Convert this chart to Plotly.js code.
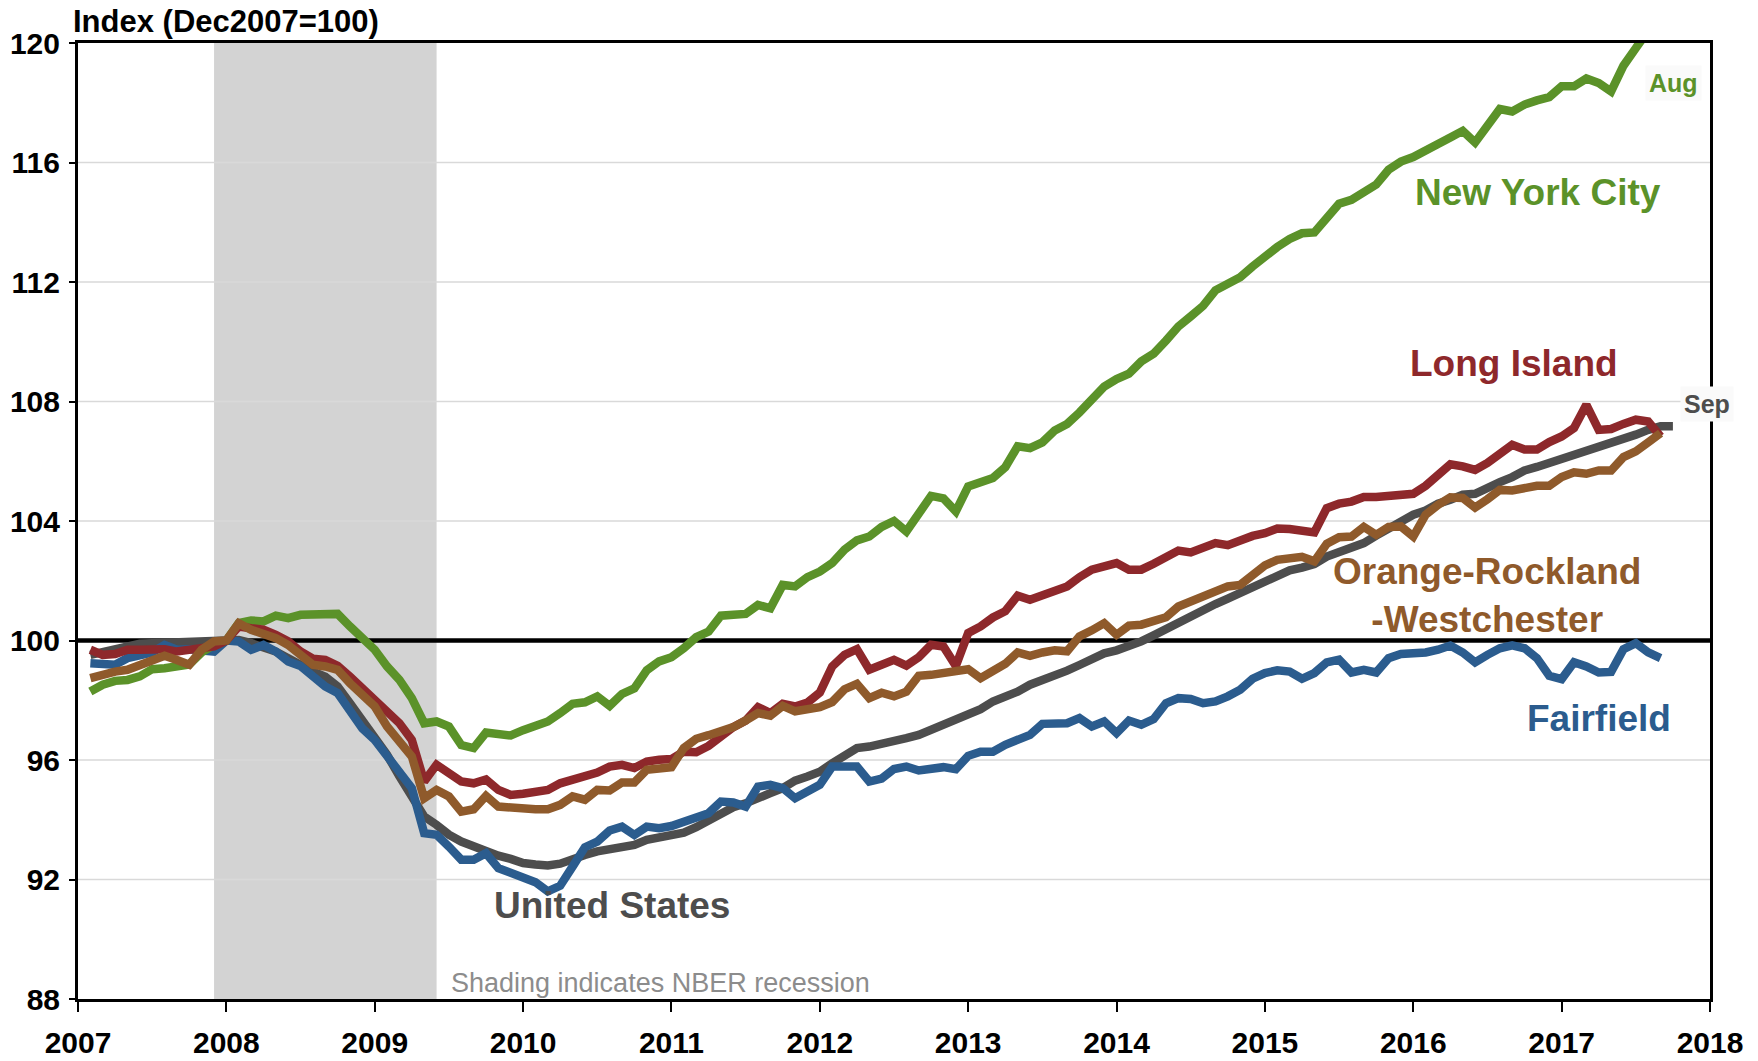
<!DOCTYPE html>
<html>
<head>
<meta charset="utf-8">
<script src="https://cdn.plot.ly/plotly-3.0.1.min.js"></script>
<style>
  html, body { margin: 0; padding: 0; background: #ffffff; }
  #chart { width: 1758px; height: 1061px; }
</style>
</head>
<body>
<div id="chart"></div>
<script>
// Monthly index values (Dec 2007 = 100), starting January 2007
const firstYear = 2007;
const yearTicks = [2007, 2008, 2009, 2010, 2011, 2012, 2013, 2014, 2015, 2016, 2017, 2018];
const yTicks = [88, 92, 96, 100, 104, 108, 112, 116, 120];
const baseline = 100;
const recessionStart = 2007.917; // Dec 2007
const recessionEnd = 2009.417;   // Jun 2009

const newYorkCity = [
  98.29, 98.52, 98.65, 98.68, 98.80, 99.04, 99.07, 99.10, 99.20, 99.60, 99.85, 100.00,
  100.58, 100.67, 100.64, 100.83, 100.75, 100.86, 100.86, 100.89, 100.89, 100.47, 100.08, 99.69,
  99.13, 98.68, 98.07, 97.23, 97.29, 97.12, 96.50, 96.40, 96.92, 96.86, 96.82, 97.00,
  97.15, 97.29, 97.57, 97.88, 97.93, 98.13, 97.81, 98.21, 98.40, 99.00, 99.30, 99.44,
  99.74, 100.11, 100.30, 100.83, 100.86, 100.89, 101.19, 101.08, 101.86, 101.81, 102.12, 102.31,
  102.59, 103.04, 103.35, 103.48, 103.80, 104.00, 103.65, 104.21, 104.84, 104.76, 104.32, 105.16,
  105.27, 105.44, 105.80, 106.50, 106.44, 106.63, 107.03, 107.25, 107.63, 108.11, 108.50, 108.75,
  108.93, 109.34, 109.60, 110.04, 110.51, 110.85, 111.20, 111.72, 111.91, 112.16, 112.52, 112.86,
  113.17, 113.44, 113.63, 113.66, 114.12, 114.62, 114.75, 115.00, 115.26, 115.76, 116.03, 116.18,
  116.37, 116.62, 116.84, 117.06, 116.67, 117.19, 117.79, 117.71, 117.94, 118.08, 118.19, 118.55,
  118.55, 118.81, 118.66, 118.38, 119.24, 119.83, 120.50, 121.00
];

const longIsland = [
  99.69, 99.52, 99.55, 99.69, 99.69, 99.71, 99.71, 99.63, 99.70, 99.74, 99.80, 100.00,
  100.47, 100.41, 100.36, 100.19, 99.97, 99.63, 99.39, 99.35, 99.15, 98.79, 98.40, 98.01,
  97.68, 97.23, 96.67, 95.28, 95.84, 95.56, 95.28, 95.22, 95.35, 95.00, 94.83, 94.87,
  94.91, 95.00, 95.22, 95.34, 95.47, 95.58, 95.78, 95.84, 95.73, 95.95, 96.01, 96.03,
  96.28, 96.26, 96.47, 96.79, 97.10, 97.32, 97.77, 97.57, 97.88, 97.79, 97.92, 98.26,
  99.13, 99.52, 99.71, 99.02, 99.19, 99.35, 99.16, 99.44, 99.86, 99.80, 99.15, 100.25,
  100.47, 100.77, 100.98, 101.50, 101.36, 101.53, 101.63, 101.81, 102.12, 102.37, 102.48, 102.59,
  102.37, 102.37, 102.57, 102.76, 103.01, 102.95, 103.09, 103.26, 103.19, 103.35, 103.50, 103.59,
  103.75, 103.73, 103.67, 103.62, 104.43, 104.58, 104.65, 104.80, 104.80, 104.84, 104.82, 104.91,
  105.18, 105.51, 105.90, 105.83, 105.71, 105.94, 106.27, 106.55, 106.39, 106.39, 106.64, 106.83,
  107.11, 107.89, 107.05, 107.08, 107.25, 107.39, 107.33, 106.83
];

const orangeRocklandWestchester = [
  98.74, 98.88, 98.96, 99.02, 99.19, 99.35, 99.49, 99.35, 99.19, 99.69, 99.97, 100.00,
  100.58, 100.36, 100.25, 100.08, 99.85, 99.52, 99.19, 99.13, 99.02, 98.57, 98.18, 97.79,
  97.12, 96.67, 96.12, 94.72, 95.00, 94.78, 94.27, 94.35, 94.80, 94.44, 94.39, 94.35,
  94.35, 94.35, 94.50, 94.78, 94.67, 95.00, 94.98, 95.25, 95.25, 95.67, 95.75, 95.76,
  96.40, 96.71, 96.83, 96.94, 97.10, 97.32, 97.57, 97.48, 97.81, 97.63, 97.68, 97.77,
  97.94, 98.37, 98.55, 98.07, 98.25, 98.13, 98.29, 98.82, 98.85, 98.91, 98.96, 99.04,
  98.74, 98.96, 99.22, 99.60, 99.49, 99.60, 99.67, 99.64, 100.14, 100.34, 100.58, 100.19,
  100.50, 100.53, 100.64, 100.78, 101.14, 101.31, 101.50, 101.64, 101.81, 101.86, 102.23, 102.51,
  102.70, 102.72, 102.80, 102.65, 103.24, 103.46, 103.48, 103.80, 103.54, 103.80, 103.82, 103.48,
  104.21, 104.54, 104.79, 104.77, 104.45, 104.73, 105.04, 105.02, 105.10, 105.18, 105.18, 105.47,
  105.63, 105.58, 105.69, 105.69, 106.14, 106.33, 106.63, 106.94
];

const unitedStates = [
  99.52, 99.63, 99.74, 99.83, 99.89, 99.91, 99.93, 99.91, 99.94, 99.97, 100.00, 100.00,
  100.02, 99.91, 99.80, 99.63, 99.41, 99.15, 98.96, 98.79, 98.46, 97.90, 97.34, 96.79,
  96.17, 95.45, 94.78, 94.11, 93.83, 93.50, 93.27, 93.10, 92.95, 92.80, 92.69, 92.55,
  92.50, 92.47, 92.53, 92.71, 92.82, 92.94, 93.01, 93.08, 93.16, 93.33, 93.42, 93.49,
  93.57, 93.75, 93.97, 94.27, 94.42, 94.55, 94.76, 94.89, 95.06, 95.31, 95.45, 95.61,
  95.89, 96.17, 96.40, 96.45, 96.53, 96.60, 96.73, 96.84, 97.01, 97.14, 97.29, 97.48,
  97.70, 97.96, 98.10, 98.29, 98.52, 98.68, 98.77, 98.99, 99.18, 99.38, 99.57, 99.67,
  99.80, 99.97, 100.17, 100.39, 100.60, 100.80, 101.03, 101.22, 101.40, 101.59, 101.81, 102.02,
  102.20, 102.35, 102.44, 102.56, 102.81, 102.98, 103.13, 103.26, 103.51, 103.76, 104.02, 104.21,
  104.35, 104.58, 104.71, 104.88, 104.91, 105.07, 105.30, 105.47, 105.69, 105.81, 105.94, 106.10,
  106.25, 106.36, 106.44, 106.58, 106.72, 106.89, 107.05, 107.17, 107.17
];

const fairfield = [
  99.24, 99.24, 99.19, 99.41, 99.52, 99.60, 99.85, 99.69, 99.71, 99.69, 99.63, 100.00,
  99.97, 99.69, 99.85, 99.63, 99.30, 99.15, 98.79, 98.46, 98.24, 97.68, 97.06, 96.67,
  96.17, 95.67, 95.06, 93.55, 93.50, 93.10, 92.66, 92.66, 92.88, 92.38, 92.21, 92.10,
  91.91, 91.60, 91.79, 92.43, 93.08, 93.27, 93.64, 93.77, 93.49, 93.77, 93.72, 93.79,
  93.94, 94.09, 94.22, 94.61, 94.58, 94.44, 95.11, 95.17, 95.06, 94.72, 94.94, 95.17,
  95.78, 95.80, 95.78, 95.28, 95.38, 95.70, 95.78, 95.65, 95.67, 95.76, 95.69, 96.14,
  96.28, 96.28, 96.51, 96.70, 96.84, 97.21, 97.23, 97.23, 97.40, 97.12, 97.29, 96.90,
  97.32, 97.18, 97.37, 97.90, 98.07, 98.04, 97.90, 97.96, 98.13, 98.35, 98.72, 98.91,
  99.00, 98.96, 98.72, 98.91, 99.27, 99.36, 98.93, 99.02, 98.93, 99.41, 99.55, 99.55,
  99.60, 99.69, 99.83, 99.60, 99.27, 99.52, 99.74, 99.84, 99.74, 99.41, 98.82, 98.71,
  99.27, 99.13, 98.93, 98.95, 99.71, 99.91, 99.60, 99.41
];

// position of the i-th monthly observation (plotted at the end of its month)
function monthPositions(values) {
  return values.map((v, i) => firstYear + (i + 1) / 12);
}

const FONT = 'Liberation Sans, Arial, Helvetica, sans-serif';
const C_NYC = '#5b9229';
const C_LI = '#8e282b';
const C_ORW = '#8f5a2b';
const C_US = '#4d4d4d';
const C_FF = '#2b5c8e';
const LW = 8.5;

function line(values, color, name) {
  return {
    type: 'scatter', mode: 'lines', name: name,
    x: monthPositions(values), y: values,
    line: { color: color, width: LW, shape: 'linear' },
    hoverinfo: 'x+y+name'
  };
}

const traces = [
  line(unitedStates, C_US, 'United States'),
  line(fairfield, C_FF, 'Fairfield'),
  line(newYorkCity, C_NYC, 'New York City'),
  line(longIsland, C_LI, 'Long Island'),
  line(orangeRocklandWestchester, C_ORW, 'Orange-Rockland-Westchester')
];

function label(text, x, y, color, size, bold, extra) {
  return Object.assign({
    text: text, x: x, y: y, xref: 'x', yref: 'y',
    showarrow: false, xanchor: 'center', yanchor: 'middle',
    font: { family: FONT, size: size, color: color, weight: bold ? 'bold' : 'normal' }
  }, extra || {});
}

const annotations = [
  label('New York City', 2016.844, 115.0, C_NYC, 37, true),
  label('Aug', 2017.755, 118.67, C_NYC, 25, true, { bgcolor: '#fafafa', borderpad: 3 }),
  label('Long Island', 2016.679, 109.26, C_LI, 37, true),
  label('Sep', 2017.98, 107.92, C_US, 25, true, { bgcolor: '#fafafa', borderpad: 3 }),
  label('Orange-Rockland<br>-Westchester', 2016.497, 101.5, C_ORW, 37, true, { align: 'center' }),
  label('Fairfield', 2017.252, 97.38, C_FF, 37, true),
  label('United States', 2010.599, 91.12, C_US, 37, true),
  label('Shading indicates NBER recession', 2010.923, 88.54, '#8c8c8c', 27, false)
];

// recession band, light gridlines (all but the frame and baseline), then the 100 baseline
const shapes = [
  { type: 'rect', xref: 'x', yref: 'paper', x0: recessionStart, x1: recessionEnd, y0: 0, y1: 1,
    fillcolor: '#d3d3d3', line: { width: 0 }, layer: 'below' }
];
yTicks.filter(v => v !== baseline && v !== yTicks[0] && v !== yTicks[yTicks.length - 1])
  .forEach(v => shapes.push({
    type: 'line', xref: 'paper', yref: 'y', x0: 0, x1: 1, y0: v, y1: v,
    line: { color: '#d9d9d9', width: 1.5 }, layer: 'below'
  }));
shapes.push({ type: 'line', xref: 'paper', yref: 'y', x0: 0, x1: 1, y0: baseline, y1: baseline,
  line: { color: '#000000', width: 4.5 }, layer: 'below' });

const layout = {
  width: 1758, height: 1061,
  margin: { l: 78, r: 48, t: 43, b: 62, pad: 0 },
  paper_bgcolor: '#ffffff', plot_bgcolor: '#ffffff',
  showlegend: false,
  title: {
    text: 'Index (Dec2007=100)',
    font: { family: FONT, size: 31, color: '#000000', weight: 'bold' },
    xref: 'container', yref: 'container',
    x: 73 / 1758, xanchor: 'left',
    y: 1 - 21 / 1061, yanchor: 'middle'
  },
  xaxis: {
    range: [2007, 2018], type: 'linear',
    tickmode: 'array', tickvals: yearTicks, ticktext: yearTicks.map(String),
    showgrid: false, zeroline: false,
    showline: true, linecolor: '#000000', linewidth: 3, mirror: true,
    ticks: 'outside', ticklen: 10, tickwidth: 2, tickcolor: '#000000',
    tickfont: { family: FONT, size: 30, color: '#000000', weight: 'bold' },
    ticklabelstandoff: 5,
    fixedrange: true
  },
  yaxis: {
    range: [88, 120],
    tickmode: 'array', tickvals: yTicks, ticktext: yTicks.map(String),
    showgrid: false,
    zeroline: false,
    showline: true, linecolor: '#000000', linewidth: 3, mirror: true,
    ticks: 'outside', ticklen: 6, tickwidth: 2, tickcolor: '#000000',
    tickfont: { family: FONT, size: 30, color: '#000000', weight: 'bold' },
    ticklabelstandoff: 3,
    fixedrange: true
  },
  shapes: shapes,
  annotations: annotations
};

Plotly.newPlot('chart', traces, layout, { displayModeBar: false, staticPlot: true });
</script>
</body>
</html>
